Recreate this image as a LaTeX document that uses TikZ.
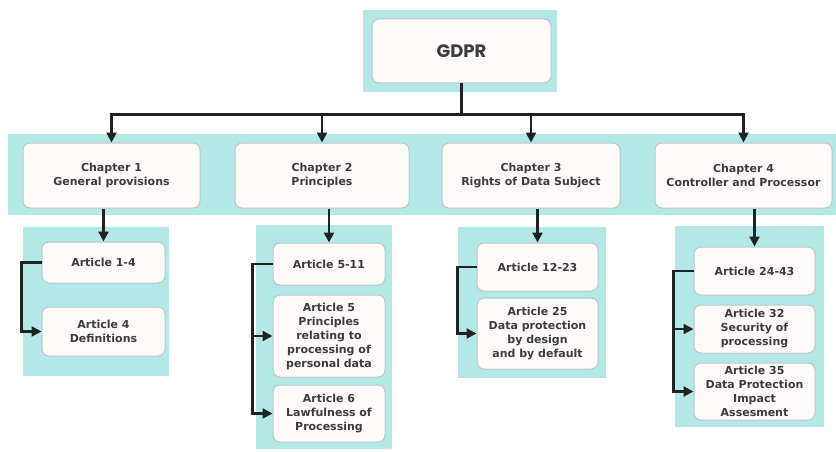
\documentclass[tikz,border=0pt]{standalone}
\usepackage{fontspec}
\setmainfont{DejaVu Sans}
\newfontfamily\titlefont{Poppins}
\usetikzlibrary{arrows.meta}
\definecolor{band}{RGB}{180,232,230}
\definecolor{boxfill}{RGB}{254,250,250}
\definecolor{boxline}{RGB}{185,200,200}
\definecolor{ink}{RGB}{60,60,60}
\definecolor{wire}{RGB}{30,35,35}
\tikzset{
  panel/.style={fill=band, draw=none},
  card/.style={draw=boxline, line width=1pt, fill=boxfill, rounded corners=7pt,
    align=center, text=ink, font=\fontsize{11}{14}\selectfont\bfseries, inner sep=1pt},
  arr/.style={draw=wire, line width=2.3pt, -{Triangle[length=10pt,width=10pt]}},
}
\begin{document}
\begin{tikzpicture}[x=1pt,y=-1pt]
\useasboundingbox (0,0) rectangle (836,452);
% coloured backgrounds
\fill[panel] (363,10) rectangle (557,92);
\fill[panel] (8,134) rectangle (836,215);
\fill[panel] (23,227) rectangle (169,376);
\fill[panel] (256,225) rectangle (392,449);
\fill[panel] (458,227) rectangle (606,378);
\fill[panel] (675,226) rectangle (824,427);
% root
\node[card, minimum width=179pt, minimum height=64pt, font=\titlefont\fontsize{18}{20}\selectfont\bfseries] (gdpr) at (461.5,51) {GDPR};
% chapters
\node[card, minimum width=177pt, minimum height=65pt] (ch1) at (111.5,175.5) {Chapter 1\\General provisions};
\node[card, minimum width=174pt, minimum height=65pt] (ch2) at (322,175.5) {Chapter 2\\Principles};
\node[card, minimum width=178pt, minimum height=65pt] (ch3) at (531,175.5) {Chapter 3\\Rights of Data Subject};
\node[card, minimum width=177pt, minimum height=65pt] (ch4) at (743.5,175.5) {Chapter 4\\Controller and Processor};
% articles
\node[card, minimum width=123pt, minimum height=41pt] (a1) at (103.5,262.5) {Article 1-4};
\node[card, minimum width=123pt, minimum height=49pt] (a4) at (103.5,331.5) {Article 4\\Definitions};
\node[card, minimum width=112pt, minimum height=42pt] (a511) at (329,264) {Article 5-11};
\node[card, minimum width=112pt, minimum height=82pt] (a5) at (329,336) {Article 5\\Principles\\relating to\\processing of\\personal data};
\node[card, minimum width=112pt, minimum height=57pt] (a6) at (329,413.5) {Article 6\\Lawfulness of\\Processing};
\node[card, minimum width=121pt, minimum height=48pt] (a1223) at (537.5,267) {Article 12-23};
\node[card, minimum width=121pt, minimum height=71pt] (a25) at (537.5,333.5) {Article 25\\Data protection\\by design\\and by default};
\node[card, minimum width=121pt, minimum height=48pt] (a2443) at (754.5,271) {Article 24-43};
\node[card, minimum width=121pt, minimum height=48pt] (a32) at (754.5,329) {Article 32\\Security of\\processing};
\node[card, minimum width=121pt, minimum height=57pt] (a35) at (754.5,391.5) {Article 35\\Data Protection\\Impact\\Assesment};
% root to chapters
\coordinate (bus) at ([yshift=-31pt]gdpr.south);
\draw[arr] (gdpr.south) -- (bus) -| (ch1.north);
\draw[arr] (gdpr.south) -- (bus) -| (ch2.north);
\draw[arr] (gdpr.south) -- (bus) -| (ch3.north);
\draw[arr] (gdpr.south) -- (bus) -| (ch4.north);
% chapters to first article
\draw[arr] (a1.north |- ch1.south) -- (a1.north);
\draw[arr] (a511.north |- ch2.south) -- (a511.north);
\draw[arr] (a1223.north |- ch3.south) -- (a1223.north);
\draw[arr] (a2443.north |- ch4.south) -- (a2443.north);
% side rails
\draw[arr] (a1.west) -- ++(-20,0) |- (a4.west);
\draw[arr] (a511.west) -- ++(-20,0) |- (a5.west);
\draw[arr] (a511.west) -- ++(-20,0) |- (a6.west);
\draw[arr] (a1223.west) -- ++(-19,0) |- (a25.west);
\draw[arr] (a2443.west) -- ++(-20,0) |- (a32.west);
\draw[arr] (a2443.west) -- ++(-20,0) |- (a35.west);
\end{tikzpicture}
\end{document}
